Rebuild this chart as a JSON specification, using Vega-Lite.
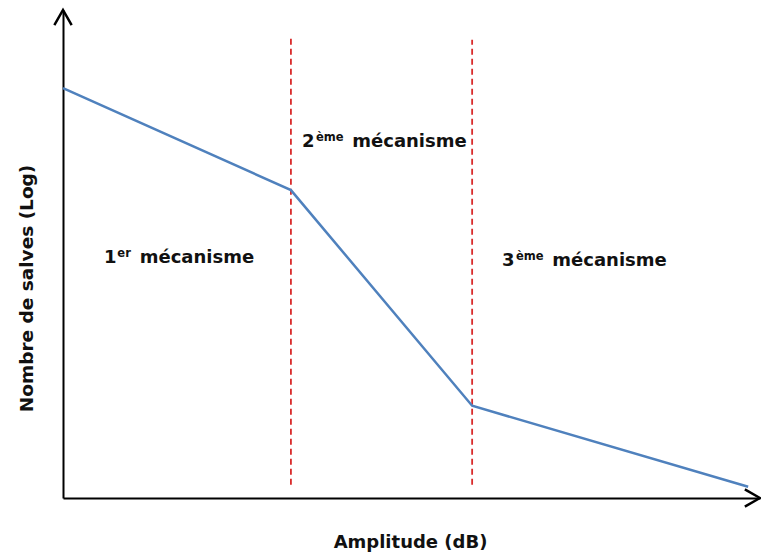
{
  "$schema": "https://vega.github.io/schema/vega-lite/v6.json",
  "autosize": {"type": "none"},
  "padding": {"left": 63, "top": 10, "right": 1, "bottom": 59},
  "width": 697,
  "height": 488,
  "background": "white",
  "config": {"view": {"stroke": null}, "font": "DejaVu Sans"},
  "datasets": {
    "curve": [
      {"x": 0, "y": 84.0},
      {"x": 32.7, "y": 63.1},
      {"x": 58.7, "y": 18.9},
      {"x": 98.3, "y": 2.3}
    ],
    "bounds": [
      {"x": 32.7, "y": 2.7, "y2": 94.3},
      {"x": 58.7, "y": 2.7, "y2": 93.9}
    ],
    "arrows": [
      {"x": 0, "y": 100, "angle": 0},
      {"x": 100, "y": 0, "angle": 90}
    ],
    "labels": [
      {"t": "1", "part": "main", "x": 5.9, "y": 48.2},
      {"t": "er", "part": "sup", "x": 7.8, "y": 48.2},
      {"t": "mécanisme", "part": "main", "x": 11.0, "y": 48.2},
      {"t": "2", "part": "main", "x": 34.3, "y": 71.9},
      {"t": "ème", "part": "sup", "x": 36.3, "y": 71.9},
      {"t": "mécanisme", "part": "main", "x": 41.5, "y": 71.9},
      {"t": "3", "part": "main", "x": 63.0, "y": 47.5},
      {"t": "ème", "part": "sup", "x": 65.0, "y": 47.5},
      {"t": "mécanisme", "part": "main", "x": 70.2, "y": 47.5}
    ]
  },
  "encoding": {
    "x": {
      "field": "x", "type": "quantitative",
      "scale": {"domain": [0, 100], "nice": false, "zero": false},
      "axis": {
        "title": "Amplitude (dB)", "domain": true, "domainColor": "black", "domainWidth": 2,
        "ticks": false, "labels": false, "grid": false,
        "titleFont": "DejaVu Sans", "titleFontSize": 18, "titleFontWeight": "bold", "titleColor": "#111",
        "titleX": 347, "titleY": 49, "titleBaseline": "alphabetic", "titleAlign": "center"
      }
    },
    "y": {
      "field": "y", "type": "quantitative",
      "scale": {"domain": [0, 100], "nice": false, "zero": false},
      "axis": {
        "title": "Nombre de salves (Log)", "domain": true, "domainColor": "black", "domainWidth": 2,
        "ticks": false, "labels": false, "grid": false,
        "titleFont": "DejaVu Sans", "titleFontSize": 18.5, "titleFontWeight": "bold", "titleColor": "#111",
        "titleAngle": -90, "titleX": -37, "titleY": 278, "titleBaseline": "middle", "titleAlign": "center"
      }
    }
  },
  "layer": [
    {
      "data": {"name": "bounds"},
      "mark": {"type": "rule", "color": "#D92B2B", "strokeWidth": 1.8, "strokeDash": [6, 4]},
      "encoding": {"y2": {"field": "y2"}}
    },
    {
      "data": {"name": "curve"},
      "mark": {"type": "line", "color": "#4F81BD", "strokeWidth": 2.5},
      "encoding": {}
    },
    {
      "data": {"name": "arrows"},
      "mark": {"type": "point", "shape": "M-1,1.75L0,0L1,1.75", "filled": false, "color": "black", "strokeWidth": 2.5, "size": 300, "opacity": 1},
      "encoding": {"angle": {"field": "angle", "type": "quantitative", "scale": null}}
    },
    {
      "data": {"name": "labels"},
      "transform": [{"filter": "datum.part === 'main'"}],
      "mark": {"type": "text", "align": "left", "baseline": "alphabetic", "font": "DejaVu Sans", "fontSize": 18, "fontWeight": "bold", "color": "#111"},
      "encoding": {"text": {"field": "t"}}
    },
    {
      "data": {"name": "labels"},
      "transform": [{"filter": "datum.part === 'sup'"}],
      "mark": {"type": "text", "align": "left", "baseline": "alphabetic", "dy": -6, "font": "DejaVu Sans", "fontSize": 11.5, "fontWeight": "bold", "color": "#111"},
      "encoding": {"text": {"field": "t"}}
    }
  ]
}
